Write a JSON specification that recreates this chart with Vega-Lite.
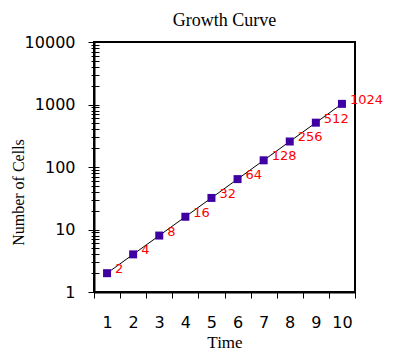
{
  "$schema": "https://vega.github.io/schema/vega-lite/v6.json",
  "width": 261,
  "height": 250,
  "autosize": "none",
  "padding": {"left": 94, "top": 42, "right": 44, "bottom": 64},
  "background": "white",
  "config": {
    "view": {"stroke": "black", "strokeWidth": 2},
    "axis": {"grid": false, "domainColor": "black", "domainWidth": 2, "tickColor": "black", "tickWidth": 1, "labelColor": "black", "labelFont": "DejaVu Sans", "labelFontSize": 16, "titleFont": "Liberation Serif", "titleFontSize": 17, "titleFontWeight": "normal", "titleColor": "black"}
  },
  "title": {"text": "Growth Curve", "font": "Liberation Serif", "fontSize": 18, "fontWeight": "normal", "color": "black", "baseline": "bottom", "frame": "group", "offset": -14},
  "data": {"values": [
    {"time": 1, "cells": 2},
    {"time": 2, "cells": 4},
    {"time": 3, "cells": 8},
    {"time": 4, "cells": 16},
    {"time": 5, "cells": 32},
    {"time": 6, "cells": 64},
    {"time": 7, "cells": 128},
    {"time": 8, "cells": 256},
    {"time": 9, "cells": 512},
    {"time": 10, "cells": 1024}
  ]},
  "encoding": {
    "x": {"field": "time", "type": "quantitative", "scale": {"domain": [0.5, 10.5], "nice": false, "zero": false},
      "axis": {"title": "Time", "values": [0.5, 1.5, 2.5, 3.5, 4.5, 5.5, 6.5, 7.5, 8.5, 9.5, 10.5], "labelExpr": "datum.value < 10 ? format(datum.value + 0.5, 'd') : ''", "labelOffset": 13, "tickSize": 6, "labelPadding": 16, "labelFlush": false, "labelOverlap": false, "titleY": 55, "titleBaseline": "alphabetic"}}
  },
  "layer": [
    {"mark": {"type": "line", "color": "black", "strokeWidth": 1},
     "encoding": {"y": {"field": "cells", "type": "quantitative", "scale": {"type": "log", "domain": [1, 10000], "nice": false},
      "axis": {"orient": "left", "offset": -5, "domain": false, "labels": false, "title": null,
        "values": [1,2,3,4,5,6,7,8,9,10,20,30,40,50,60,70,80,90,100,200,300,400,500,600,700,800,900,1000,2000,3000,4000,5000,6000,7000,8000,9000,10000],
        "tickSize": {"condition": {"test": "indexof([1,10,100,1000,10000], datum.value) >= 0", "value": 11}, "value": 8}}}}},
    {"mark": {"type": "point", "shape": "square", "filled": true, "size": 64, "color": "#3F00A3", "opacity": 1},
     "encoding": {"y": {"field": "cells", "type": "quantitative", "scale": {"type": "log", "domain": [1, 10000], "nice": false},
      "axis": {"orient": "left", "title": "Number of Cells", "values": [1, 10, 100, 1000, 10000], "format": "d", "ticks": false, "labelPadding": 19, "labelFlush": false, "labelOverlap": false, "labelBaseline": "middle",
        "titleFontSize": 16, "titleX": -71, "titleY": 150, "titleAngle": -90, "titleAlign": "center", "titleBaseline": "alphabetic"}}}},
    {"mark": {"type": "text", "align": "left", "baseline": "alphabetic", "dx": 8, "dy": 0, "color": "#FF0000", "font": "DejaVu Sans", "fontSize": 13},
     "encoding": {"y": {"field": "cells", "type": "quantitative", "scale": {"type": "log", "domain": [1, 10000], "nice": false}, "axis": null},
      "text": {"field": "cells", "type": "quantitative"}}}
  ],
  "resolve": {"axis": {"y": "independent"}}
}
